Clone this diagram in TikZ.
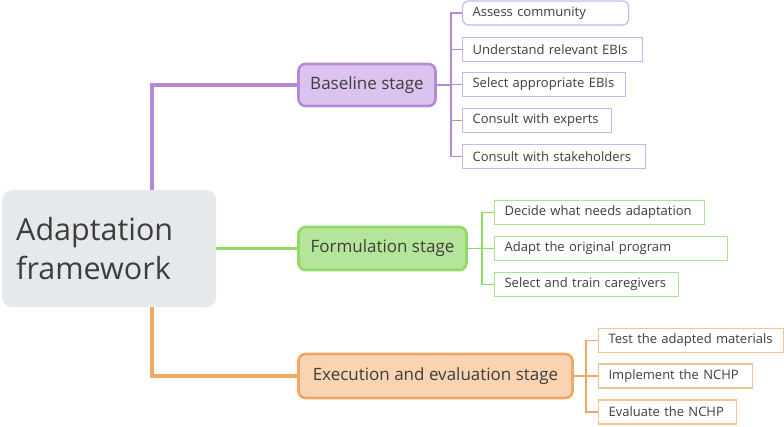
\documentclass[tikz,border=0pt]{standalone}
\usepackage{fontspec}
\setmainfont{Open Sans}
\usepackage{tikz}

\definecolor{txt}{HTML}{3E3E3E}
\definecolor{rootfill}{HTML}{E6E9EC}
\definecolor{purpline}{HTML}{B48AD6}
\definecolor{purpfill}{HTML}{DBC3F0}
\definecolor{purpleaf}{HTML}{D0B2EC}
\definecolor{grnline}{HTML}{8FDB64}
\definecolor{grnfill}{HTML}{B4E59A}
\definecolor{grnleaf}{HTML}{A9E68C}
\definecolor{orgline}{HTML}{F1A866}
\definecolor{orgfill}{HTML}{F9D3B2}
\definecolor{orgleaf}{HTML}{F6C492}

\begin{document}
\begin{tikzpicture}[x=1pt, y=-1pt,
	stage/.style={rounded corners=7pt, line width=2.6pt, minimum height=42pt, inner sep=0pt, text=txt, font=\fontsize{17}{20}\selectfont},
	leaf/.style={draw, line width=1.2pt, fill=white, anchor=west, minimum height=24pt, inner xsep=10pt, inner ysep=0pt, text width=#1, align=left, text=txt, font=\fontsize{13}{15}\selectfont},
	trunk/.style={line width=3.6pt},
	twig/.style={line width=1.8pt}]
	\useasboundingbox (0,0) rectangle (784,426);
	% central topic
	\node [fill=rootfill, rounded corners=10pt, minimum width=214pt, minimum height=117pt, inner xsep=14pt, text width=186pt, align=left, anchor=north west, text=txt, font=\fontsize{30.5}{39}\selectfont] (root) at (2,190) {Adaptation\\framework};
	\coordinate (rp) at (152,0);
	% stages
	\node [stage, fill=purpfill, draw=purpline, minimum width=137pt] (base) at (367,85) {Baseline stage};
	\node [stage, fill=grnfill, draw=grnline, minimum width=168pt, minimum height=43pt] (form) at (382.5,248.5) {Formulation stage};
	\node [stage, fill=orgfill, draw=orgline, minimum width=274pt, minimum height=44pt] (exec) at (435.5,376) {Execution and evaluation stage};
	\draw [trunk, purpline] (root.north -| rp) |- (base.west);
	\draw [trunk, grnline] (root.east |- form.west) -- (form.west);
	\draw [trunk, orgline] (root.south -| rp) |- (exec.west);
	% baseline tasks
	\node [leaf=146pt, draw=purpleaf, rounded corners=6pt] (b1) at (462,13) {Assess community};
	\node [leaf=160pt, draw=purpleaf] (b2) at (462,49.5) {Understand relevant EBIs};
	\node [leaf=143pt, draw=purpleaf] (b3) at (462,84.5) {Select appropriate EBIs};
	\node [leaf=129pt, draw=purpleaf] (b4) at (462,120.5) {Consult with experts};
	\node [leaf=163pt, draw=purpleaf] (b5) at (462,156.5) {Consult with stakeholders};
	\coordinate (bx) at (451,85);
	\draw [twig, purpline] (base.east) -- (bx);
	\foreach \i in {1,...,5}
		\draw [twig, purpline] (bx) |- (b\i.west);
	% formulation tasks
	\node [leaf=190pt, draw=grnleaf] (f1) at (494,212.5) {Decide what needs adaptation};
	\node [leaf=213pt, draw=grnleaf] (f2) at (494,248.5) {Adapt the original program};
	\node [leaf=164pt, draw=grnleaf] (f3) at (494,284.5) {Select and train caregivers};
	\coordinate (fx) at (482,248.5);
	\draw [twig, grnline] (form.east) -- (fx);
	\foreach \i in {1,2,3}
		\draw [twig, grnline] (fx) |- (f\i.west);
	% execution tasks
	\node [leaf=165pt, draw=orgleaf] (e1) at (598,340.5) {Test the adapted materials};
	\node [leaf=134pt, draw=orgleaf] (e2) at (598,376) {Implement the NCHP};
	\node [leaf=118pt, draw=orgleaf] (e3) at (598,412) {Evaluate the NCHP};
	\coordinate (ex) at (586,376);
	\draw [twig, orgline] (exec.east) -- (ex);
	\foreach \i in {1,2,3}
		\draw [twig, orgline] (ex) |- (e\i.west);
\end{tikzpicture}
\end{document}
